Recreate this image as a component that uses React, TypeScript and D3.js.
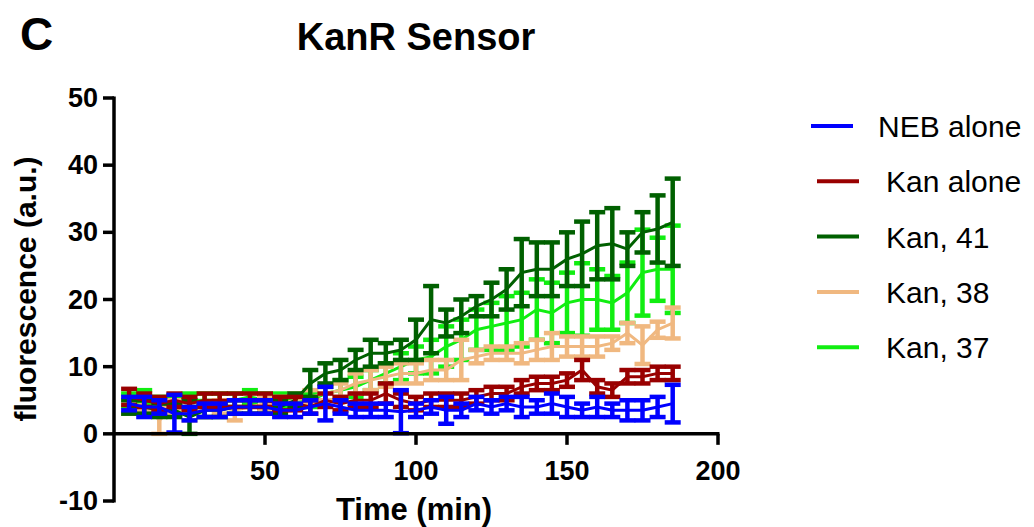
import React from 'react';
import * as d3 from 'd3';

const times = [5, 10, 15, 20, 25, 30, 35, 40, 45, 50, 55, 60, 65, 70, 75, 80, 85, 90, 95, 100, 105, 110, 115, 120, 125, 130, 135, 140, 145, 150, 155, 160, 165, 170, 175, 180, 185];

const nebMean = [4.5, 4, 4, 3, 3, 3.5, 3.5, 4, 4, 4, 3.5, 3.5, 4, 4.5, 4, 3.5, 3.5, 3.5, 3.3, 3.5, 4, 3.5, 3.5, 4.5, 4, 4.5, 4, 4, 4.5, 4, 3.5, 4, 3.5, 3.5, 3.5, 4, 4.5];
const nebErr = [1, 1.5, 1, 2.8, 1, 1, 1, 1, 1, 1, 1, 1, 1, 2.5, 1, 1, 1, 1, 3.2, 1, 1, 2, 1, 1, 1, 1, 1.5, 1, 1.5, 1.5, 1, 1.5, 1, 1.5, 1.5, 1.5, 2.8];

const kanMean = [5.5, 5, 4.5, 5, 4.5, 5, 5, 5, 5, 5, 4.5, 4.5, 4, 5, 4.5, 5, 5, 6, 5, 4.5, 5, 5, 5, 5.5, 6, 6, 7, 7.5, 7.5, 8, 9.5, 7, 6.5, 8.5, 8.5, 9, 9];
const kanErr = [1.2, 1, 1, 1, 1, 1, 1, 1, 1, 1, 1, 1, 1, 1, 1, 1, 1, 1.5, 1, 1, 1, 1, 1, 1, 1, 1, 1, 1, 1, 1, 1.5, 1, 1, 1, 1, 1, 1];

const k41Mean = [4, 4, 3.5, 3.5, 2.5, 3.5, 3.5, 4, 4, 4, 4, 5, 7.5, 9, 9.5, 11, 12, 12, 12.5, 14, 17, 16.5, 17.5, 19, 20, 21.5, 24, 24.5, 24.5, 26, 26.8, 28, 28.3, 27.5, 30, 30.5, 31.5];
const k41Err = [1, 1, 1, 1, 2.5, 1, 1, 1, 1, 1, 1, 1, 2, 1.5, 1.5, 1.5, 2, 1.5, 1.5, 3, 5, 2, 2.5, 1.5, 2.5, 3, 5, 4, 4, 4, 4.8, 5, 5.3, 2.5, 3, 5, 6.5];

const k38Mean = [4, 4.5, 2, 4, 3, 3.5, 4, 3.5, 4, 4.5, 4.5, 5, 5.5, 6, 6.5, 7.5, 8, 8.5, 9, 9, 9.5, 9.5, 11, 11.5, 12, 12, 12, 12.5, 13, 13, 13, 13, 13.5, 15, 13.2, 15.5, 16.5];
const k38Err = [1, 1, 2, 1, 1, 1, 1, 1.5, 1, 1, 1, 1, 1, 1, 1, 1.5, 1.5, 1.5, 1.5, 1.5, 1.5, 1.5, 3, 1, 1, 1, 1.5, 1.5, 2, 1.5, 1.5, 1.5, 1, 1.5, 2.8, 1.2, 2.3];

const k37Mean = [5, 5.5, 4.5, 4.5, 5, 5, 5, 5, 5.5, 5, 5, 5, 5, 6, 6.5, 7, 8, 9, 10, 11, 11.5, 13, 14, 15.5, 16, 16.5, 17, 18.5, 18, 19.5, 20, 20, 19.5, 21, 24, 24.5, 24.5];
const k37Err = [1, 1, 1, 1, 1, 1, 1, 1, 1, 1, 1, 1, 1, 1, 1.5, 1.5, 1.5, 1.5, 2, 2, 2.5, 3, 3, 3, 3.5, 4, 4, 4.5, 4.5, 4.5, 5.4, 4.5, 4, 4.5, 6.4, 4.7, 6.5];

const seriesNames = ['NEB alone', 'Kan alone', 'Kan, 41', 'Kan, 38', 'Kan, 37'];
const seriesColors = ['#0000ff', '#990000', '#006000', '#f0b880', '#11ee11'];
const seriesMeans = [nebMean, kanMean, k41Mean, k38Mean, k37Mean];
const seriesErrs = [nebErr, kanErr, k41Err, k38Err, k37Err];

const xTicks = [50, 100, 150, 200];
const yTicks = [-10, 0, 10, 20, 30, 40, 50];

const FONT = '"Liberation Sans", Arial, sans-serif';

export default function App() {
  const x = d3.scaleLinear().domain([0, 200]).range([114, 718]);
  const y = d3.scaleLinear().domain([-10, 50]).range([501, 98]);
  const line = d3
    .line<number>()
    .x((_, i) => x(times[i]))
    .y((d) => y(d));

  const drawOrder = [4, 3, 2, 1, 0];
  const capHalf = 8;

  return (
    <svg
      width={1034}
      height={527}
      style={{ position: 'absolute', left: 0, top: 0, background: '#fff' }}
      fontFamily={FONT}
    >
      <rect x={0} y={0} width={1034} height={527} fill="#fff" />
      <text x={20} y={50} fontSize={46} fontWeight="bold">C</text>
      <text x={416} y={50} fontSize={38} fontWeight="bold" textAnchor="middle">KanR Sensor</text>

      {drawOrder.map((s) => (
        <g key={s}>
          <path d={line(seriesMeans[s]) || ''} fill="none" stroke={seriesColors[s]} strokeWidth={3} />
          {seriesMeans[s].map((m, i) => {
            const cx = x(times[i]);
            const e = seriesErrs[s][i];
            const y1 = y(m + e);
            const y2 = y(m - e);
            return (
              <g key={i} stroke={seriesColors[s]} strokeWidth={4.5}>
                <line x1={cx} x2={cx} y1={y1} y2={y2} />
                <line x1={cx - capHalf} x2={cx + capHalf} y1={y1} y2={y1} />
                <line x1={cx - capHalf} x2={cx + capHalf} y1={y2} y2={y2} />
              </g>
            );
          })}
        </g>
      ))}

      {/* axes */}
      <g stroke="#000" strokeWidth={3.5} fill="none">
        <line x1={x(0)} x2={x(0)} y1={y(50) - 1.5} y2={y(-10) + 1.5} />
        {yTicks.map((t) => (
          <line key={t} x1={x(0) - 11} x2={x(0)} y1={y(t)} y2={y(t)} />
        ))}
        <line x1={x(0)} x2={x(200) + 1.5} y1={y(0)} y2={y(0)} />
        {xTicks.map((t) => (
          <line key={t} x1={x(t)} x2={x(t)} y1={y(0)} y2={y(0) + 11} />
        ))}
      </g>
      {yTicks.map((t) => (
        <text
          key={t}
          x={x(0) - 16}
          y={y(t)}
          fontSize={27}
          fontWeight="bold"
          textAnchor="end"
          dominantBaseline="central"
        >
          {t}
        </text>
      ))}
      {xTicks.map((t) => (
        <text key={t} x={x(t)} y={480} fontSize={27} fontWeight="bold" textAnchor="middle">
          {t}
        </text>
      ))}
      <text x={414} y={520} fontSize={31} fontWeight="bold" textAnchor="middle">Time (min)</text>
      <text
        transform={`translate(36, 289) rotate(-90)`}
        fontSize={30}
        fontWeight="bold"
        textAnchor="middle"
      >
        fluorescence (a.u.)
      </text>

      {/* legend */}
      {seriesNames.map((name, i) => {
        const cy = 126 + i * 55.3;
        const lx = i === 0 ? 811 : 817;
        const tx = i === 0 ? 878 : 886;
        return (
          <g key={name}>
            <line x1={lx} x2={lx + 42} y1={cy} y2={cy} stroke={seriesColors[i]} strokeWidth={4} />
            <text x={tx} y={cy + 11} fontSize={30}>{name}</text>
          </g>
        );
      })}
    </svg>
  );
}
